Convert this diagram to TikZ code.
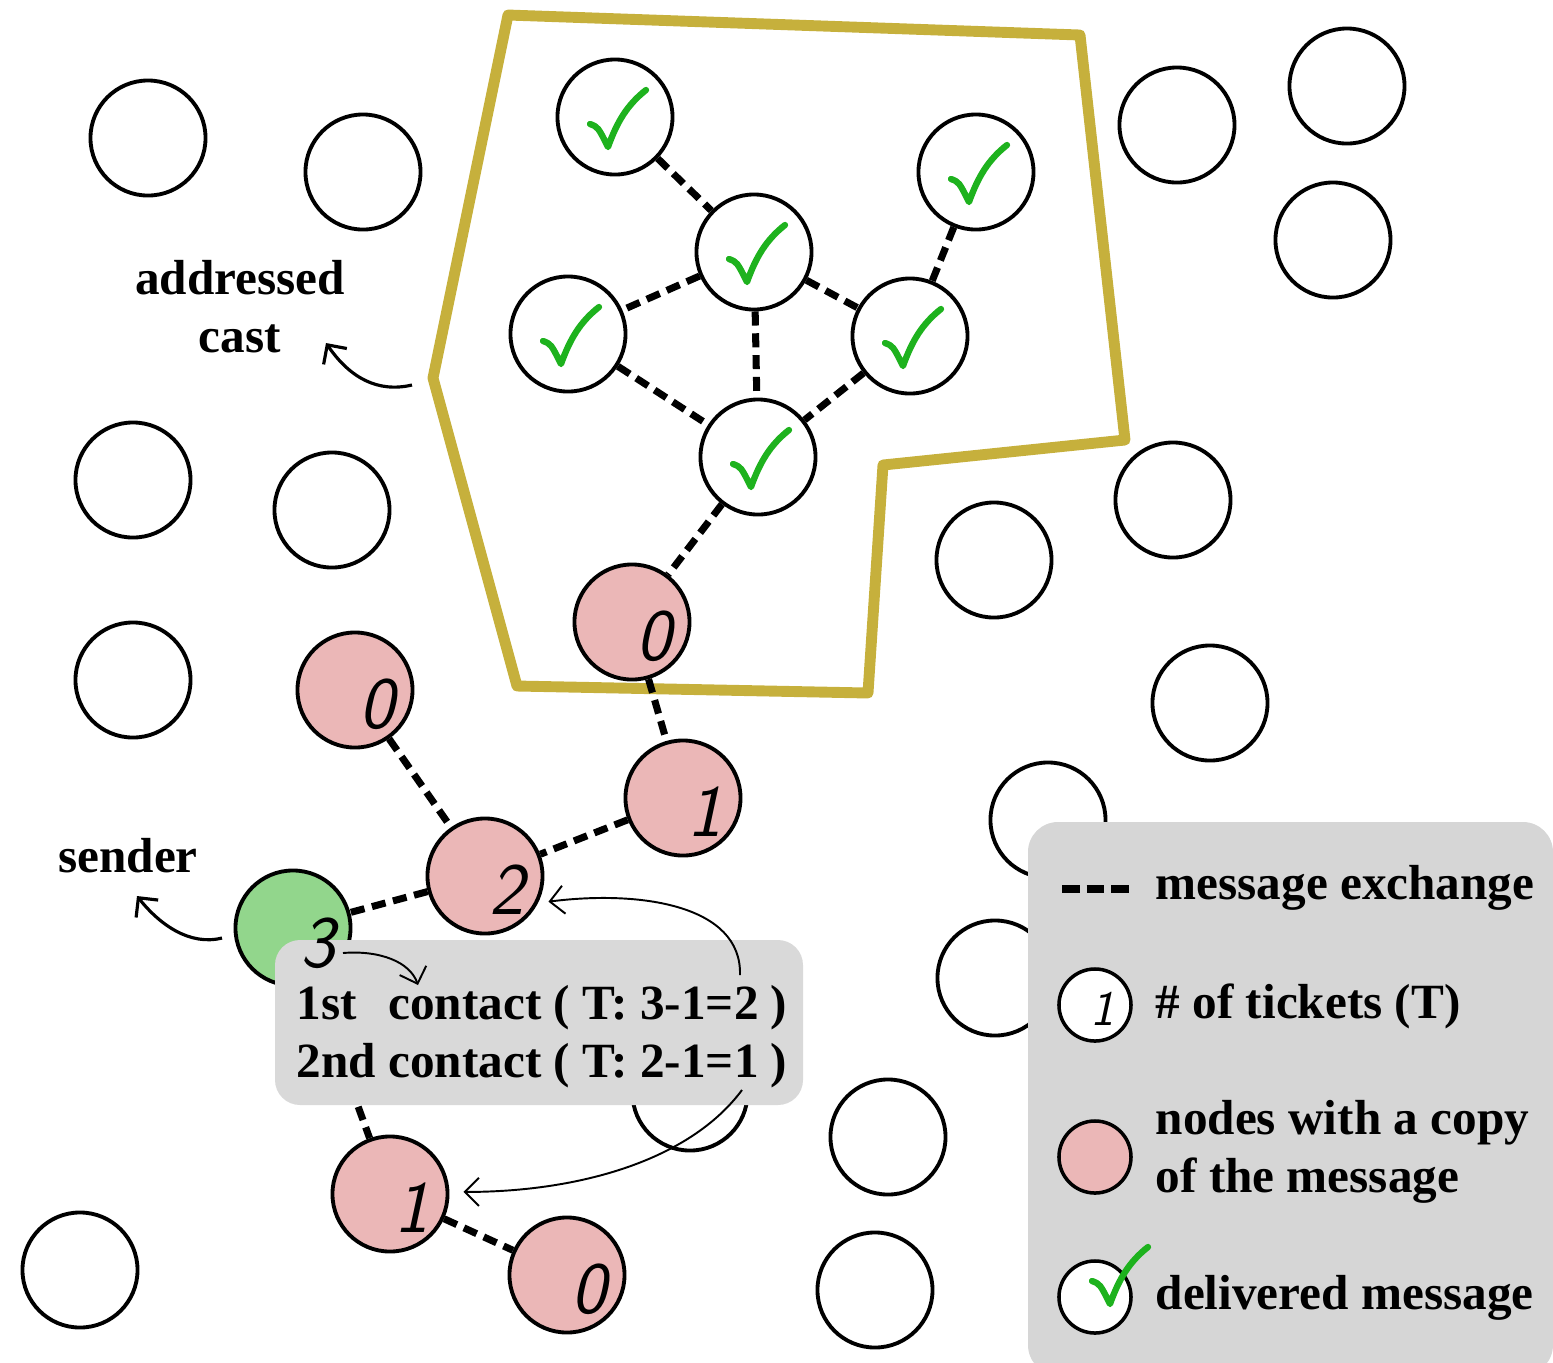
\documentclass[tikz,border=0pt]{standalone}
\usepackage{fontspec}
\setmainfont{Liberation Serif}
\usetikzlibrary{arrows.meta}
\definecolor{pinkfill}{RGB}{235,183,183}
\definecolor{greenfill}{RGB}{146,214,140}
\definecolor{checkgreen}{RGB}{30,178,30}
\definecolor{castline}{RGB}{198,176,60}
\definecolor{boxgray}{RGB}{217,217,217}
\definecolor{legendgray}{RGB}{214,214,214}
\begin{document}
\begin{tikzpicture}[x=0.01cm,y=-0.01cm,
  nd/.style={circle,draw,line width=1.1pt,minimum size=1.15cm,inner sep=0pt},
  emptynode/.style={nd,fill=white},
  pinknode/.style={nd,fill=pinkfill},
  sendnode/.style={nd,fill=greenfill},
  delnode/.style={nd,fill=white},
  digit/.style={font=\fontsize{21}{21}\selectfont\sffamily\itshape,inner sep=0pt},
  num/.style={label={[digit,xshift=0.22cm,yshift=-0.14cm]center:#1}},
  msg/.style={line width=2pt,dash pattern=on 4pt off 2.2pt},
  lbl/.style={font=\fontsize{14}{16.3}\selectfont\bfseries,inner sep=0pt},
  bigarrow/.style={line width=0.9pt,-{Straight Barb[length=4pt,width=8pt]}},
  thinarrow/.style={line width=0.55pt,-{Straight Barb[length=4pt,width=8pt]}},
  tick/.pic={\draw[checkgreen,line width=1.8pt,line cap=round,line join=round]
     (-25,7) .. controls (-17,10) .. (-7,30) .. controls (2,5) and (12,-12) .. (31,-27);}
]
\useasboundingbox (0,0) rectangle (1553,1362);
\clip (0,0) rectangle (1553,1362);

% empty nodes
\foreach \n/\x/\y in {e1/148/138,e2/363/172,e3/1177/125,e4/1347/86,e5/1333/240,
  e6/133/480,e7/332/510,e8/1173/500,e9/994/560,e10/133/680,e11/1210/703,
  e12/1048/820,e13/995/978,e14/690/1093,e15/888/1137,e16/80/1270,e17/875/1290}
  {\node[emptynode] (\n) at (\x,\y) {};}

% delivered nodes
\node[delnode] (chA) at (615,117) {};
\node[delnode] (chB) at (976,172) {};
\node[delnode] (chC) at (754,252) {};
\node[delnode] (chD) at (568,334) {};
\node[delnode] (chE) at (910,336) {};
\node[delnode] (chF) at (758,457) {};
\foreach \c in {chA,chB,chC,chD,chE,chF} {\pic at (\c) {tick};}

% nodes with a copy
\node[pinknode,num=0] (pA) at (632,622) {};
\node[pinknode,num=0] (pB) at (355,690) {};
\node[pinknode,num=1] (pC) at (683,798) {};
\node[pinknode,num=2] (pD) at (485,876) {};
\node[sendnode] (snd) at (293,928) {};
\node[pinknode,num=1] (pE) at (390,1194) {};
\node[pinknode,num=0] (pF) at (567,1275) {};

% addressed cast region
\draw[castline,line width=3.1pt,line join=round]
  (508,15) -- (1080,35) -- (1125,440) -- (883,465) -- (868,693) -- (517,686) -- (433,378) -- cycle;

% message exchanges
\foreach \a/\b in {chA/chC,chB/chE,chC/chD,chC/chE,chC/chF,chD/chF,chE/chF,chF/pA,
  pA/pC,pB/pD,pC/pD,pD/snd,snd/pE,pE/pF}
  {\draw[msg] (\a) -- (\b);}

% contact box
\fill[boxgray,rounded corners=0.25cm] (275,940) rectangle (803,1105);
\node[digit] (snddigit) at ([shift={(25,15)}]snd.center) {3};
\node[lbl,anchor=base west,align=left] (contact) at (296,1077)
  {\rlap{1st}\hphantom{2nd} contact ( T: 3-1=2 )\\2nd contact ( T: 2-1=1 )};
\coordinate (c1a) at (343,953);
\coordinate (c1b) at (418,985);
\coordinate (c2a) at (740,975);
\coordinate (c3a) at (742,1090);
\draw[thinarrow] (c1a) .. controls (380,950) and (410,962) .. (c1b);
\draw[thinarrow,shorten >=3pt] (c2a) .. controls (742,905) and (640,890) .. (pD.-27);
\draw[thinarrow,shorten >=4pt] (c3a) .. controls (690,1160) and (580,1192) .. (pE.2);

% labels
\node[lbl,align=center,anchor=base] (castlbl) at (240,352) {addressed\\cast};
\coordinate (castfrom) at (412,385);
\coordinate (castto) at (326,343);
\draw[bigarrow] (castfrom) .. controls (378,393) and (350,378) .. (castto);
\node[lbl,anchor=base] (sendlbl) at (128,872) {sender};
\coordinate (sendfrom) at (222,938);
\coordinate (sendto) at (137,896);
\draw[bigarrow] (sendfrom) .. controls (190,946) and (160,925) .. (sendto);

% legend
\fill[legendgray,rounded corners=0.3cm] (1028,822) rectangle (1553,1375);
\coordinate (lgd1) at (1062,889);
\coordinate (lgd2) at (1129,889);
\draw[line width=2.2pt,dash pattern=on 5pt off 2pt] (lgd1) -- (lgd2);
\node[lbl,anchor=base west] (lt1) at (1155,899) {message exchange};
\node[nd,minimum size=0.72cm,fill=white,line width=1pt] (lg1) at (1095,1005) {};
\node[digit,font=\fontsize{14}{14}\selectfont\sffamily\itshape] (lg1digit) at ([shift={(8,4)}]lg1.center) {1};
\node[lbl,anchor=base west] (lt2) at (1155,1018) {\# of tickets (T)};
\node[nd,minimum size=0.72cm,fill=pinkfill,line width=1pt] (lgpink) at (1095,1157) {};
\node[lbl,anchor=base west,align=left] (lt3) at (1155,1192) {nodes with a copy\\of the message};
\node[nd,minimum size=0.72cm,fill=white,line width=1pt] (lgcheck) at (1095,1297) {};
\pic at ([shift={(22,-23)}]lgcheck.center) {tick};
\node[lbl,anchor=base west] (lt4) at (1155,1309) {delivered message};
\end{tikzpicture}
\end{document}
